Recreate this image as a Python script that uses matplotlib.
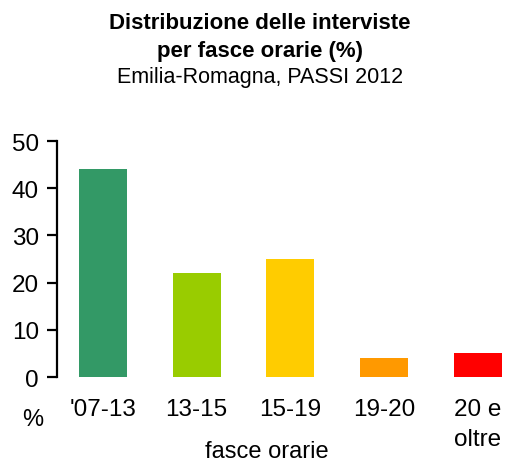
import matplotlib.pyplot as plt

plt.rcParams['font.family'] = ['Liberation Sans', 'DejaVu Sans']

fasce = ["'07-13", "13-15", "15-19", "19-20", "20 e\noltre"]
percentuali = [44, 22, 25, 4, 5]
colori = ['#339966', '#99cc00', '#ffcc00', '#ff9900', '#ff0000']

fig = plt.figure(figsize=(5.06, 4.64), dpi=100)
ax = fig.add_axes([0.1126, 0.1853, 0.8874, 0.5086])

x = range(len(fasce))
ax.bar(x, percentuali, width=0.51, color=colori)

ax.set_xlim(-0.49, 4.30)
ax.set_ylim(0, 50)
ax.set_yticks([0, 10, 20, 30, 40, 50])
ax.set_xticks(list(x))
ax.set_xticklabels(fasce, linespacing=1.45)

for side in ['top', 'right', 'bottom']:
    ax.spines[side].set_visible(False)
ax.spines['left'].set_linewidth(1.6)

ax.tick_params(axis='y', direction='out', length=7, width=1.6, pad=6, labelsize=17.5)
ax.tick_params(axis='x', length=0, pad=15, labelsize=17.5)

fig.text(0.514, 0.950, "Distribuzione delle interviste", ha='center', va='center',
         fontsize=16, fontweight='bold')
fig.text(0.514, 0.890, "per fasce orarie (%)", ha='center', va='center',
         fontsize=16, fontweight='bold')
fig.text(0.514, 0.833, "Emilia-Romagna, PASSI 2012", ha='center', va='center',
         fontsize=15.5)

fig.text(0.065, 0.095, "%", ha='center', va='center', fontsize=17)
fig.text(0.528, 0.026, "fasce orarie", ha='center', va='center', fontsize=17)

fig.savefig('out.png', dpi=100)
